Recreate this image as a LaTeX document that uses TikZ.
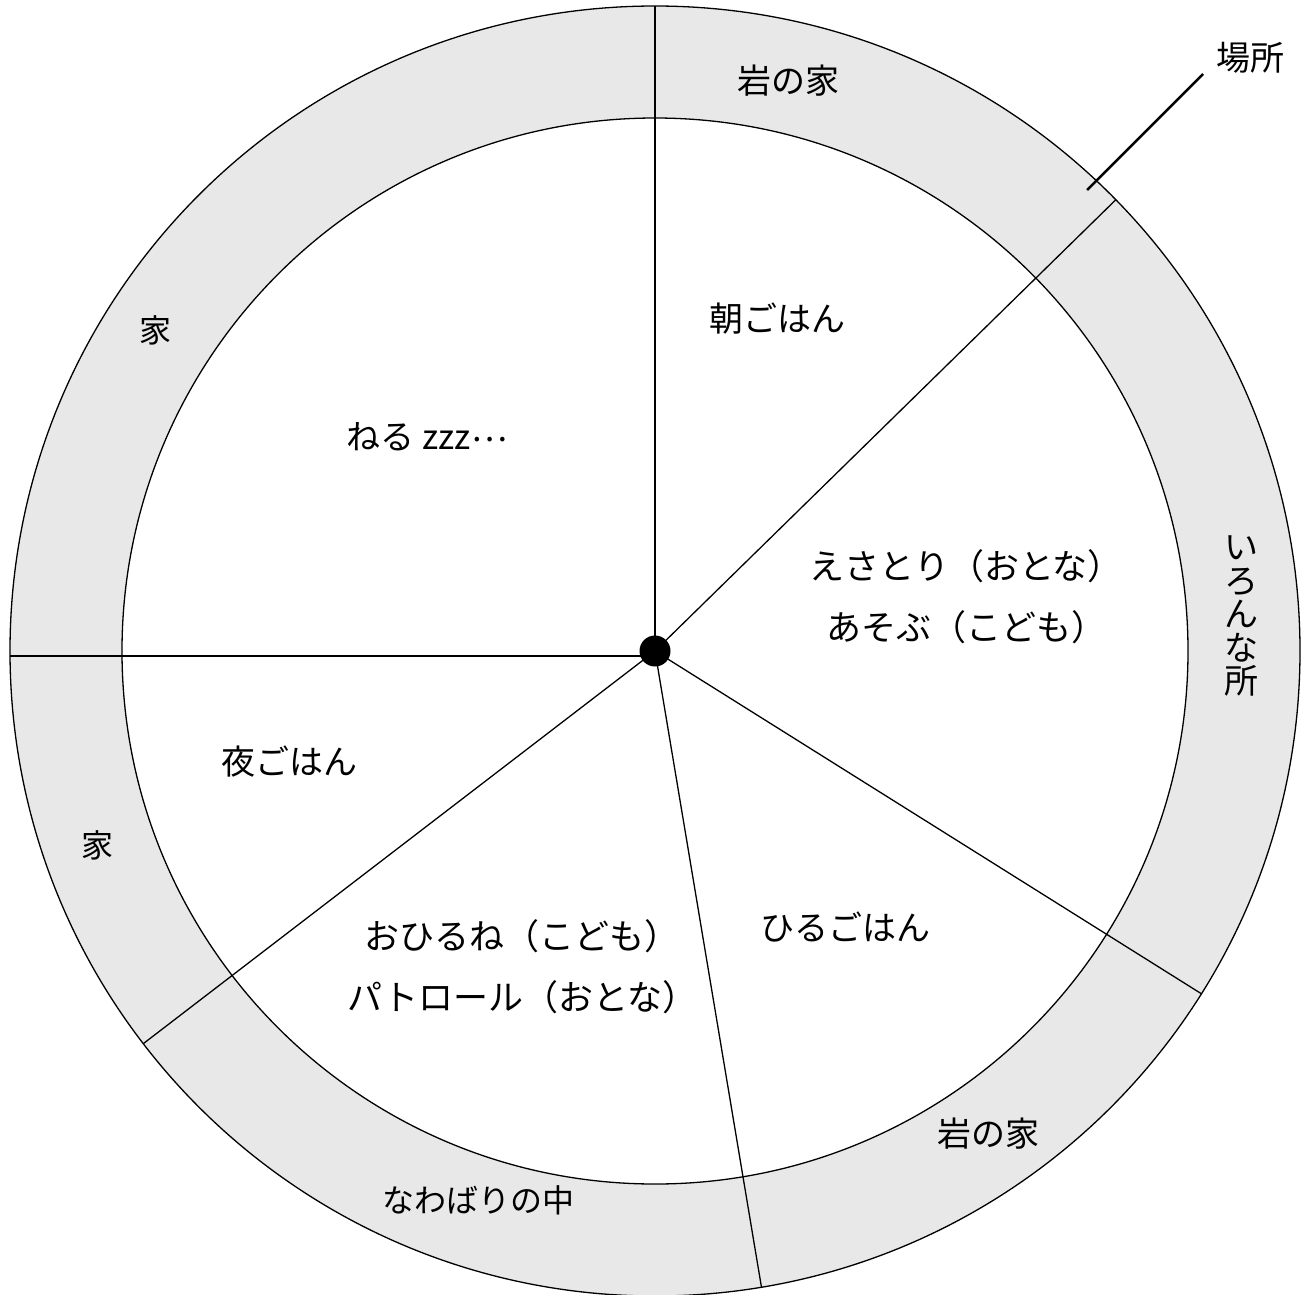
\documentclass[tikz,border=0pt]{standalone}
\usepackage{fontspec}
\setmainfont{Noto Sans CJK JP}
\definecolor{ringgray}{HTML}{E8E8E8}
\tikzset{
  ringline/.style={line width=1.3pt, black},
  spoke/.style={line width=1.3pt, black},
  lbl/.style={inner sep=0pt, font=\fontsize{34}{60}\selectfont, align=center},
  widelbl/.style={inner sep=0pt, font=\fontsize{35}{61}\selectfont, align=center},
  smalllbl/.style={inner sep=0pt, font=\fontsize{32}{36}\selectfont, align=center},
  vlbl/.style={inner sep=0pt, font=\fontsize{34}{33.5}\selectfont, align=center},
  leader/.style={line width=2.5pt, black}
}
\begin{document}
\begin{tikzpicture}[x=1pt,y=1pt]
\useasboundingbox (0,0) rectangle (1301,-1294);
\coordinate (c) at (655,-651);
% ring
\fill[ringgray] (c) circle (645);
\fill[white] (c) circle (533);
\draw[ringline] (c) circle (645);
\draw[ringline] (c) circle (533);
% spokes
\begin{scope}[shift={(655,-651)}]
  \coordinate (pTop) at (90:645);
  \coordinate (pUR) at (44.4:645);
  \coordinate (pLR) at (-32.1:645);
  \coordinate (pB) at (-80.5:645);
  \coordinate (pLL) at (217.5:645);
\end{scope}
\coordinate (pL) at (10,-656);
\coordinate (cL) at (650,-656);
\draw[spoke] (c) -- (pTop);
\draw[spoke] (c) -- (pUR);
\draw[spoke] (c) -- (pLR);
\draw[spoke] (c) -- (pB);
\draw[spoke] (c) -- (pLL);
\draw[spoke] (cL) -- (pL);
\fill[black] (c) circle (15.5);
% inner labels
\node[lbl] (asa) at (777,-319) {朝ごはん};
\node[lbl] (neru) at (427,-437) {ねる zzz\raisebox{0.25em}{…}};
\node[widelbl] (esa) at (966,-597) {えさとり（おとな）\\あそぶ（こども）};
\node[lbl] (yoru) at (289,-762) {夜ごはん};
\node[lbl] (hiru) at (845,-927) {ひるごはん};
\node[widelbl] (ohirune) at (522,-967) {おひるね（こども）\\パトロール（おとな）};
% ring labels
\node[lbl] (iwa1) at (788,-81) {岩の家};
\node[vlbl] (iron) at (1241,-616) {い\\ろ\\ん\\な\\所};
\node[lbl] (iwa2) at (988,-1134) {岩の家};
\node[smalllbl] (nawa) at (478,-1200) {なわばりの中};
\node[smalllbl] (ie1) at (155,-330) {家};
\node[smalllbl] (ie2) at (97,-845) {家};
% leader
\node[lbl] (basho) at (1250,-58) {場所};
\coordinate (ldA) at (1087,-190);
\coordinate (ldB) at (1203,-74);
\draw[leader] (ldA) -- (ldB);
\end{tikzpicture}
\end{document}
